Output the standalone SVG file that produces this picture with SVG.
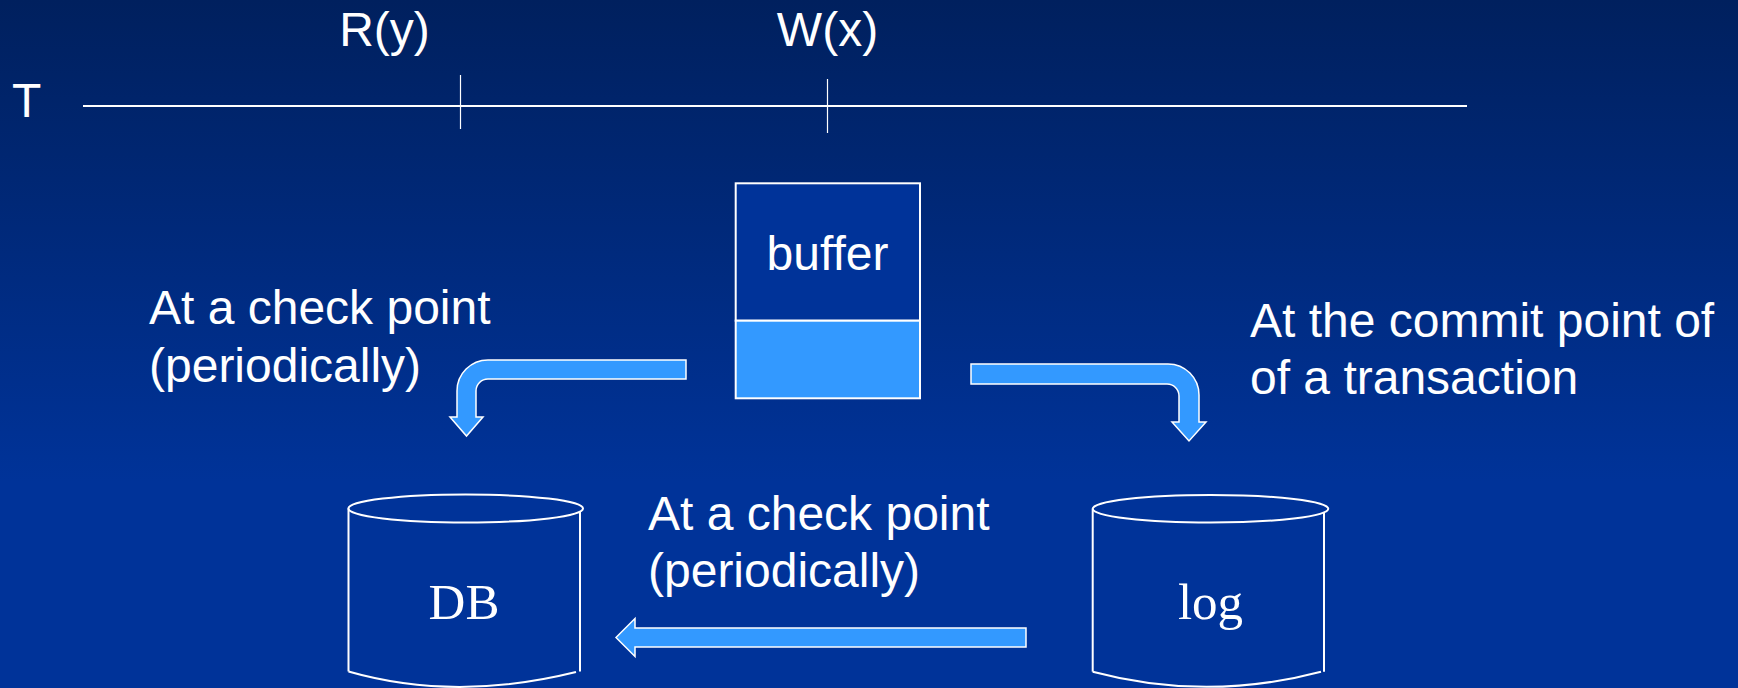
<svg xmlns="http://www.w3.org/2000/svg" width="1738" height="688" viewBox="0 0 1738 688">
<defs>
<linearGradient id="bg" x1="0" y1="0" x2="0" y2="1">
<stop offset="0" stop-color="#00205E"/>
<stop offset="0.7" stop-color="#003399"/>
<stop offset="1" stop-color="#003399"/>
</linearGradient>
<style>
.t{font-family:"Liberation Sans",Arial,sans-serif;font-size:48px;fill:#fff}
.s{font-family:"Liberation Serif","Times New Roman",serif;font-size:51px;fill:#fff}
.ln{stroke:#fff;fill:none}
.arr{fill:#3399FF;stroke:#fff;stroke-width:1.5;stroke-linejoin:miter}
.cyl{stroke:#fff;stroke-width:2;fill:none}
</style>
</defs>
<rect x="0" y="0" width="1738" height="688" fill="url(#bg)"/>

<g id="timeline">
<text class="t" x="12" y="117">T</text>
<line class="ln" x1="83" y1="106" x2="1467" y2="106" stroke-width="2"/>
<line class="ln" x1="460.5" y1="75" x2="460.5" y2="129" stroke-width="1.2"/>
<line class="ln" x1="827.5" y1="79" x2="827.5" y2="133" stroke-width="1.2"/>
<text class="t" x="384.5" y="46" text-anchor="middle">R(y)</text>
<text class="t" x="827.5" y="46" text-anchor="middle">W(x)</text>
</g>

<g id="buffer">
<rect x="735.7" y="183.3" width="184.3" height="137.4" fill="#003399" stroke="#fff" stroke-width="2"/>
<rect x="735.7" y="320.7" width="184.3" height="77.6" fill="#3399FF" stroke="#fff" stroke-width="2"/>
<text class="t" x="827.5" y="270" text-anchor="middle">buffer</text>
</g>

<g id="db">
<ellipse class="cyl" cx="465.7" cy="508.5" rx="117.3" ry="14"/>
<line class="cyl" x1="348.5" y1="508.5" x2="348.5" y2="671.5"/>
<line class="cyl" x1="580" y1="511.6" x2="580" y2="671.5"/>
<path class="cyl" d="M348.5,671.5 Q455,702 576,672"/>
<text class="s" x="464" y="619" text-anchor="middle">DB</text>
</g>

<g id="log">
<ellipse class="cyl" cx="1210.5" cy="508.8" rx="117.8" ry="13.8"/>
<line class="cyl" x1="1092.7" y1="508.8" x2="1092.7" y2="671.7"/>
<line class="cyl" x1="1324" y1="512.5" x2="1324" y2="671.7"/>
<path class="cyl" d="M1092.7,671.7 Q1206,702 1321,671.7"/>
<text class="s" x="1210.5" y="619" text-anchor="middle">log</text>
</g>

<g id="labels">
<text class="t" x="149" y="324">At a check point</text>
<text class="t" x="149" y="381.5">(periodically)</text>
<text class="t" x="1250" y="337">At the commit point of</text>
<text class="t" x="1250" y="394">of a transaction</text>
<text class="t" x="648" y="529.5">At a check point</text>
<text class="t" x="648" y="586.5">(periodically)</text>
</g>

<g id="connectors">
<path class="arr" d="M686,360 H488 A31,31 0 0 0 457,391 V417 H450 L466.5,436 L483,417 H476 V391 A12,12 0 0 1 488,379 H686 Z"/>
<path class="arr" d="M971,364 H1168 A31,31 0 0 1 1199,395 V422 H1206 L1189,441 L1172,422 H1179 V396 A12,12 0 0 0 1167,384 H971 Z"/>
<path class="arr" d="M1026,628 H635 V618.5 L616,637.5 L635,656.5 V647 H1026 Z"/>
</g>
</svg>
